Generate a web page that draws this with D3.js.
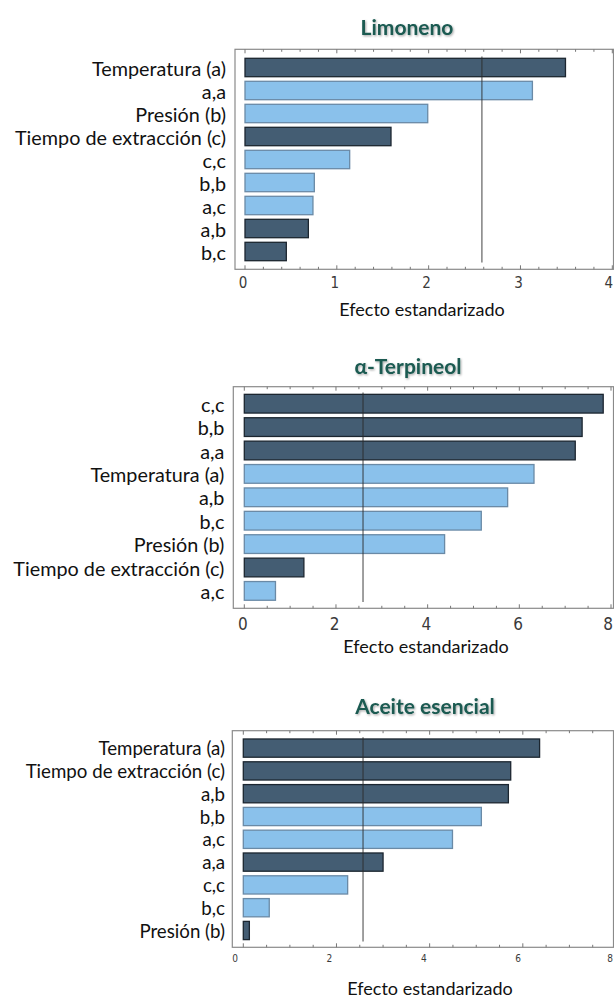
<!DOCTYPE html>
<html>
<head>
<meta charset="utf-8">
<script src="https://cdn.jsdelivr.net/npm/d3@7"></script>
<style>
  html, body { margin: 0; padding: 0; background: #fff; }
  svg { display: block; }
</style>
</head>
<body>
<div id="chart"></div>
<script>
// Standardized-effect Pareto charts for three responses.
// "+" effects are drawn dark, "-" effects light.

const limonenoTerms  = ["Temperatura (a)", "a,a", "Presión (b)", "Tiempo de extracción (c)", "c,c", "b,b", "a,c", "a,b", "b,c"];
const limonenoValues = [3.49, 3.13, 1.99, 1.59, 1.14, 0.755, 0.74, 0.69, 0.45];
const limonenoSigns  = ["+", "-", "-", "+", "-", "-", "-", "+", "+"];
const limonenoTicks  = [0, 1, 2, 3, 4];
const limonenoCrit   = 2.58;

const terpineolTerms  = ["c,c", "b,b", "a,a", "Temperatura (a)", "a,b", "b,c", "Presión (b)", "Tiempo de extracción (c)", "a,c"];
const terpineolValues = [7.83, 7.37, 7.22, 6.32, 5.745, 5.17, 4.37, 1.30, 0.68];
const terpineolSigns  = ["+", "+", "+", "-", "-", "-", "-", "+", "-"];
const terpineolTicks  = [0, 2, 4, 6, 8];
const terpineolCrit   = 2.59;

const aceiteTerms  = ["Temperatura (a)", "Tiempo de extracción (c)", "a,b", "b,b", "a,c", "a,a", "c,c", "b,c", "Presión (b)"];
const aceiteValues = [6.36, 5.74, 5.69, 5.11, 4.49, 3.0, 2.24, 0.557, 0.13];
const aceiteSigns  = ["+", "+", "+", "-", "-", "+", "-", "-", "+"];
const aceiteTicks  = [0, 2, 4, 6, 8];
const aceiteCrit   = 2.57;

const panelTitles = ["Limoneno", "α-Terpineol", "Aceite esencial"];
const axisTitle = "Efecto estandarizado";

const W = 614, H = 1000;
const svg = d3.select("#chart").append("svg").attr("width", W).attr("height", H);

const defs = svg.append("defs");
const shadow = defs.append("filter").attr("id", "title-shadow")
  .attr("x", "-10%").attr("y", "-30%").attr("width", "120%").attr("height", "160%");
shadow.append("feDropShadow").attr("dx", 1).attr("dy", 1.2).attr("stdDeviation", 1)
  .attr("flood-color", "#000").attr("flood-opacity", 0.35);

const fill = { "+": "#445d73", "-": "#8ac1eb" };
const edge = { "+": "#1c2630", "-": "#6a8aa6" };

function drawPanel(cfg) {
  const g = svg.append("g");
  const x = d3.scaleLinear().domain(cfg.domain).range(cfg.xRange);
  // tick numbers sit on their own (slightly offset) scale
  const xl = d3.scaleLinear().domain(cfg.domain).range(cfg.labelRange);
  const y = d3.scaleBand().domain(cfg.terms).range(cfg.yRange).paddingInner(0.2).paddingOuter(0.1);

  // frame
  g.append("rect")
    .attr("x", cfg.frame[0]).attr("y", cfg.frame[1])
    .attr("width", cfg.frame[2] - cfg.frame[0]).attr("height", cfg.frame[3] - cfg.frame[1])
    .attr("fill", "none").attr("stroke", "#8a8a8a").attr("stroke-width", 1.2);

  // inward tick marks on bottom and top edges
  const minor = d3.range(cfg.domain[0], cfg.domain[1] + 1e-9, cfg.minorStep);
  [cfg.frame[3], cfg.frame[1]].forEach((yy, i) => {
    const dir = i === 0 ? -1 : 1;
    g.selectAll(null).data(minor).enter().append("line")
      .attr("x1", d => x(d)).attr("x2", d => x(d))
      .attr("y1", yy).attr("y2", d => yy + dir * (cfg.ticks.some(t => Math.abs(t - d) < 1e-9) ? 4 : 2.5))
      .attr("stroke", "#777").attr("stroke-width", 1);
  });

  // tick labels (the last one is kept inside the page edge)
  g.selectAll(null).data(cfg.ticks).enter().append("text")
    .attr("x", d => xl(d)).attr("y", cfg.tickY)
    .attr("text-anchor", "middle").attr("dominant-baseline", "central")
    .style("font-family", "'Liberation Sans Narrow', 'DejaVu Sans Condensed', sans-serif")
    .style("font-size", cfg.tickSize + "px").attr("fill", "#3a3a3a")
    .text(d => d)
    .each(function () {
      const bb = this.getBBox();
      if (bb.x + bb.width > W - 1) {
        d3.select(this).attr("text-anchor", "end").attr("x", W - 1);
      }
    });

  // bars
  g.selectAll(null).data(cfg.values).enter().append("rect")
    .attr("x", x(0))
    .attr("y", (d, i) => y(cfg.terms[i]))
    .attr("width", d => x(d) - x(0))
    .attr("height", y.bandwidth())
    .attr("fill", (d, i) => fill[cfg.signs[i]])
    .attr("stroke", (d, i) => edge[cfg.signs[i]])
    .attr("stroke-width", 1.3);

  // critical value line
  g.append("line")
    .attr("x1", x(cfg.crit)).attr("x2", x(cfg.crit))
    .attr("y1", cfg.yRange[0] + 0.5).attr("y2", cfg.yRange[1] - 0.5)
    .attr("stroke", "#2b2b2b").attr("stroke-opacity", 0.75).attr("stroke-width", 1.2);

  // term labels
  g.selectAll(null).data(cfg.terms).enter().append("text")
    .attr("x", cfg.labelX)
    .attr("y", d => y(d) + y.bandwidth() / 2)
    .attr("text-anchor", "end").attr("dominant-baseline", "central")
    .style("font-family", "Lato, 'Open Sans', sans-serif")
    .style("font-size", cfg.labelSize + "px").attr("fill", "#111")
    .text(d => d);

  // panel title
  g.append("text")
    .attr("x", cfg.titleX).attr("y", cfg.titleY)
    .attr("text-anchor", "middle").attr("dominant-baseline", "central")
    .style("font-family", "Lato, 'Open Sans', sans-serif").style("font-weight", 700)
    .style("font-size", "21px").attr("fill", "#1a5a51")
    .attr("filter", "url(#title-shadow)")
    .text(cfg.title);

  // axis title (alphabetic baseline)
  g.append("text")
    .attr("x", cfg.axisX).attr("y", cfg.axisBase)
    .attr("text-anchor", "middle")
    .style("font-family", "Lato, 'Open Sans', sans-serif")
    .style("font-size", "18px").attr("fill", "#111")
    .text(axisTitle);
}

drawPanel({
  title: panelTitles[0], terms: limonenoTerms, values: limonenoValues, signs: limonenoSigns,
  ticks: limonenoTicks, crit: limonenoCrit, domain: [0, 4], minorStep: 0.2,
  xRange: [245, 612.3], labelRange: [243, 610.3], yRange: [56, 263], frame: [235, 49.3, 613.5, 269.3],
  tickY: 283, tickSize: 15, labelX: 226, labelSize: 19.8,
  titleX: 407, titleY: 26, axisX: 422, axisBase: 316
});

drawPanel({
  title: panelTitles[1], terms: terpineolTerms, values: terpineolValues, signs: terpineolSigns,
  ticks: terpineolTicks, crit: terpineolCrit, domain: [0, 8], minorStep: 0.5,
  xRange: [244.3, 611], labelRange: [242.8, 609.8], yRange: [392, 602.6], frame: [233.3, 386.7, 613.5, 608.3],
  tickY: 624, tickSize: 17, labelX: 224.4, labelSize: 19.8,
  titleX: 408, titleY: 365, axisX: 426, axisBase: 653
});

drawPanel({
  title: panelTitles[2], terms: aceiteTerms, values: aceiteValues, signs: aceiteSigns,
  ticks: aceiteTicks, crit: aceiteCrit, domain: [0, 8], minorStep: 0.5,
  xRange: [243.3, 616], labelRange: [235, 612.5], yRange: [736.7, 941.9], frame: [232.3, 730.7, 613.5, 947.3],
  tickY: 958.5, tickSize: 10, labelX: 225, labelSize: 18.7,
  titleX: 425, titleY: 705, axisX: 430, axisBase: 995
});
</script>
</body>
</html>
